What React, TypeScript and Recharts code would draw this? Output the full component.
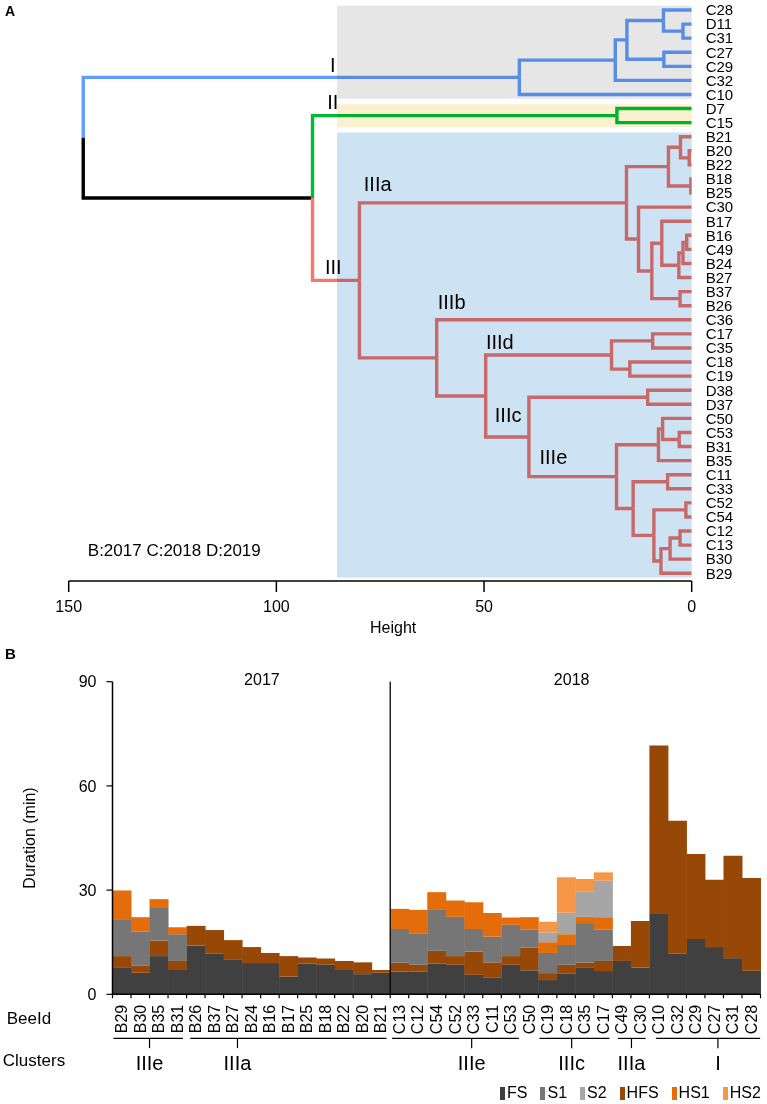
import React from 'react';
import {
  ComposedChart,
  Line,
  Bar,
  XAxis,
  YAxis,
  ReferenceArea,
  ReferenceDot,
  ReferenceLine,
  Label,
  Legend,
} from 'recharts';

// ================= Panel A: dendrogram =================
const leafNames = [
  'C28', 'D11', 'C31', 'C27', 'C29', 'C32', 'C10', 'D7', 'C15', 'B21', 'B20', 'B22', 'B18', 'B25',
  'C30', 'B17', 'B16', 'C49', 'B24', 'B27', 'B37', 'B26', 'C36', 'C17', 'C35', 'C18', 'C19', 'D38',
  'D37', 'C50', 'C53', 'B31', 'B35', 'C11', 'C33', 'C52', 'C54', 'C12', 'C13', 'B30', 'B29',
];

// merge steps [left, right, height]; "mN" names the result of step N (1-based)
const mergeSteps: [string, string, number][] = [
  ['D11', 'C31', 2.1], // m1
  ['C28', 'm1', 6.8], // m2
  ['C27', 'C29', 6.7], // m3
  ['m2', 'm3', 15.6], // m4
  ['m4', 'C32', 18.4], // m5
  ['m5', 'C10', 41.5], // m6  cluster I
  ['D7', 'C15', 18.0], // m7  cluster II
  ['B20', 'B22', 0.6], // m8
  ['B21', 'm8', 2.7], // m9
  ['B18', 'B25', 0.2], // m10
  ['m9', 'm10', 5.6], // m11
  ['B16', 'C49', 1.2], // m12
  ['m12', 'B24', 2.1], // m13
  ['m13', 'B27', 3.1], // m14
  ['B17', 'm14', 7.2], // m15
  ['B37', 'B26', 2.8], // m16
  ['m15', 'm16', 9.6], // m17
  ['C30', 'm17', 12.8], // m18
  ['m11', 'm18', 15.7], // m19 IIIa
  ['C17', 'C35', 9.4], // m20
  ['C18', 'C19', 14.9], // m21
  ['m20', 'm21', 19.3], // m22 IIId
  ['D38', 'D37', 10.6], // m23
  ['C53', 'B31', 3.0], // m24
  ['C50', 'm24', 7.0], // m25
  ['m25', 'B35', 8.0], // m26
  ['C11', 'C33', 5.8], // m27
  ['C52', 'C54', 1.4], // m28
  ['C12', 'C13', 2.8], // m29
  ['m29', 'B30', 5.2], // m30
  ['m30', 'B29', 7.4], // m31
  ['m28', 'm31', 9.1], // m32
  ['m27', 'm32', 14.1], // m33
  ['m26', 'm33', 18.1], // m34 IIIe
  ['m23', 'm34', 39.2], // m35 IIIc
  ['m22', 'm35', 49.6], // m36
  ['C36', 'm36', 61.4], // m37 IIIb
  ['m19', 'm37', 80.0], // m38 III
  ['m7', 'm38', 91.3], // m39
  ['m6', 'm39', 146.5], // m40 root
];

const clusterColors: Record<string, string> = {
  m6: '#619CFF',
  m7: '#00BA38',
  m38: '#F8766D',
};

const clusterBoxes = [
  { from: 'C28', to: 'C10', fill: '#E6E6E6' },
  { from: 'D7', to: 'C15', fill: '#FCF1CE' },
  { from: 'B21', to: 'B29', fill: '#CDE2F3' },
];
const boxLeftHeight = 85.4;

const clusterTags = [
  { text: 'I', h: 86.4, y: 3.9 },
  { text: 'II', h: 86.4, y: 6.5 },
  { text: 'IIIa', h: 75.6, y: 12.38 },
  { text: 'III', h: 86.3, y: 18.23 },
  { text: 'IIIb', h: 57.8, y: 20.7 },
  { text: 'IIId', h: 46.2, y: 23.6 },
  { text: 'IIIc', h: 44.2, y: 28.76 },
  { text: 'IIIe', h: 33.3, y: 31.77 },
];
const yearNote = { text: 'B:2017 C:2018 D:2019', h: 145.4, y: 38.35 };
const heightTicks = [0, 50, 100, 150];

type TreeNode = { h: number; y: number; kids: string[] };
const nodes: Record<string, TreeNode> = {};
leafNames.forEach((n, i) => {
  nodes[n] = { h: 0, y: i, kids: [] };
});
mergeSteps.forEach(([a, b, h], i) => {
  nodes['m' + (i + 1)] = { h, y: (nodes[a].y + nodes[b].y) / 2, kids: [a, b] };
});
const rootId = 'm' + mergeSteps.length;

type Edge = { id: string; color: string; pts: { h: number; y: number }[] };
const edges: Edge[] = [];
const walk = (id: string, color: string) => {
  const n = nodes[id];
  n.kids.forEach((k) => {
    const kc = clusterColors[k] ?? color;
    const c = nodes[k];
    edges.push({
      id: k,
      color: kc,
      pts: [
        { h: n.h, y: n.y },
        { h: n.h, y: c.y },
        { h: c.h, y: c.y },
      ],
    });
    walk(k, kc);
  });
};
walk(rootId, '#000000');

// ================= Panel B: stacked durations =================
const beeIds = [
  'B29', 'B30', 'B35', 'B31', 'B26', 'B37', 'B27', 'B24', 'B16', 'B17', 'B25', 'B18', 'B22', 'B20', 'B21',
  'C13', 'C12', 'C54', 'C52', 'C33', 'C11', 'C53', 'C50', 'C19', 'C18', 'C35', 'C17', 'C49', 'C30',
  'C10', 'C32', 'C29', 'C27', 'C31', 'C28',
];
const fsValues = [
  7.8, 6.2, 11.0, 7.0, 14.0, 11.8, 9.9, 9.0, 9.0, 5.1, 8.9, 8.5, 7.0, 5.8, 6.2,
  6.5, 6.6, 8.8, 8.5, 5.6, 4.9, 8.5, 6.9, 4.1, 5.9, 7.6, 6.7, 9.6, 7.7,
  23.1, 11.8, 15.9, 13.6, 10.4, 6.8,
];
const hfsValues = [
  3.2, 2.0, 4.5, 2.6, 5.7, 6.7, 5.7, 4.6, 2.9, 5.9, 1.7, 1.8, 2.6, 3.4, 0.8,
  2.6, 1.9, 3.7, 2.5, 6.7, 4.3, 2.5, 6.5, 2.0, 2.6, 1.5, 2.9, 4.3, 13.4,
  48.5, 38.2, 24.5, 19.4, 29.5, 26.7,
];
const s1Values = [
  10.4, 9.9, 9.6, 7.7, 0, 0, 0, 0, 0, 0, 0, 0, 0, 0, 0,
  9.7, 8.9, 12.0, 11.3, 6.5, 7.4, 9.0, 5.3, 5.8, 5.7, 11.4, 9.1, 0, 0,
  0, 0, 0, 0, 0, 0,
];
const hs1Values = [
  8.5, 4.1, 2.3, 2.0, 0, 0, 0, 0, 0, 0, 0, 0, 0, 0, 0,
  5.8, 6.9, 4.9, 4.7, 7.7, 6.8, 2.1, 3.5, 3.1, 3.1, 1.8, 3.5, 0, 0,
  0, 0, 0, 0, 0, 0,
];
const s2Values = [
  0, 0, 0, 0, 0, 0, 0, 0, 0, 0, 0, 0, 0, 0, 0,
  0, 0, 0, 0, 0, 0, 0, 0, 2.8, 6.2, 7.2, 10.5, 0, 0,
  0, 0, 0, 0, 0, 0,
];
const hs2Values = [
  0, 0, 0, 0, 0, 0, 0, 0, 0, 0, 0, 0, 0, 0, 0,
  0, 0, 0, 0, 0, 0, 0, 0, 3.1, 10.2, 3.7, 2.4, 0, 0,
  0, 0, 0, 0, 0, 0,
];

const seriesColors: Record<string, string> = {
  FS: '#404040',
  S1: '#767676',
  S2: '#A6A6A6',
  HFS: '#974806',
  HS1: '#E46C0A',
  HS2: '#F79646',
};
const stackOrder = ['FS', 'HFS', 'S1', 'HS1', 'S2', 'HS2'];
const legendOrder = ['FS', 'S1', 'S2', 'HFS', 'HS1', 'HS2'];
const durationTicks = [0, 30, 60, 90];

const barData = beeIds.map((bee, i) => ({
  bee,
  slot: i + 0.5,
  FS: fsValues[i],
  HFS: hfsValues[i],
  S1: s1Values[i],
  HS1: hs1Values[i],
  S2: s2Values[i],
  HS2: hs2Values[i],
}));

const yearDivider = 15;
const yearLabels = [
  { text: '2017', at: 8.07 },
  { text: '2018', at: 24.8 },
];
const clusterBrackets = [
  { text: 'IIIe', from: 0.05, to: 3.8, mark: 2.0 },
  { text: 'IIIa', from: 4.2, to: 14.8, mark: 6.75 },
  { text: 'IIIe', from: 15.1, to: 21.95, mark: 19.4 },
  { text: 'IIIc', from: 23.06, to: 26.84, mark: 24.8 },
  { text: 'IIIa', from: 27.3, to: 28.8, mark: 28.03 },
  { text: 'I', from: 29.35, to: 34.98, mark: 32.7 },
];
const bracketLevel = -12.7;
const bracketTickEnd = -15.5;
const bracketTextLevel = -19.7;
const rowTitles = [
  { text: 'BeeId', x: -4.51, y: -6.69 },
  { text: 'Clusters', x: -4.24, y: -18.95 },
];

const BeeTick = (props: any) => {
  const { x, y, payload, index, visibleTicksCount, width } = props;
  const half =
    payload && typeof payload.offset === 'number' && payload.offset > 0
      ? payload.offset
      : width && visibleTicksCount
        ? width / visibleTicksCount / 2
        : 0;
  return (
    <g>
      <line x1={x - half} x2={x - half} y1={y} y2={y + 4} stroke="#000" strokeWidth={1.2} />
      {index === visibleTicksCount - 1 && (
        <line x1={x + half} x2={x + half} y1={y} y2={y + 4} stroke="#000" strokeWidth={1.2} />
      )}
      <text
        transform={`translate(${x},${y + 10.5}) rotate(-90)`}
        textAnchor="end"
        dominantBaseline="central"
        fontSize={16}
        fill="#000"
      >
        {payload.value}
      </text>
    </g>
  );
};

const DurationLabel = (props: any) => {
  const vb = props.viewBox || {};
  const cx = (vb.x ?? 0) + 29;
  const cy = (vb.y ?? 0) + (vb.height ?? 0) / 2;
  return (
    <text
      x={cx}
      y={cy}
      transform={`rotate(-90, ${cx}, ${cy})`}
      textAnchor="middle"
      dominantBaseline="central"
      fontSize={16}
      fill="#000"
    >
      Duration (min)
    </text>
  );
};

const renderLegend = () => (
  <div style={{ display: 'flex', gap: 13, fontSize: 16, lineHeight: '16px', color: '#000' }}>
    {legendOrder.map((k) => (
      <div key={k} style={{ display: 'flex', alignItems: 'center' }}>
        <span
          style={{ display: 'inline-block', width: 5, height: 13, background: seriesColors[k], marginRight: 2 }}
        />
        <span>{k}</span>
      </div>
    ))}
  </div>
);

const FONT = '"Liberation Sans", Arial, Helvetica, sans-serif';

export default function App() {
  return (
    <div
      style={{
        position: 'absolute',
        left: 0,
        top: 0,
        width: 767,
        height: 1104,
        background: '#fff',
        fontFamily: FONT,
        overflow: 'hidden',
      }}
    >
      <style>{`.dendro .recharts-reference-area-rect, .dendro .blend-box { mix-blend-mode: multiply; }`}</style>
      <div style={{ position: 'absolute', left: 5, top: 3, fontWeight: 700, fontSize: 14 }}>A</div>
      <div style={{ position: 'absolute', left: 5, top: 645, fontWeight: 700, fontSize: 15 }}>B</div>

      <div className="dendro" style={{ position: 'absolute', left: 0, top: 0 }}>
        <ComposedChart width={767} height={645} margin={{ top: 2.96, right: 0, bottom: 12, left: 68.7 }}>
          <XAxis
            type="number"
            dataKey="h"
            domain={[0, 150]}
            reversed
            allowDataOverflow
            ticks={heightTicks}
            interval={0}
            height={52}
            tickSize={11}
            tickMargin={9}
            axisLine={{ stroke: '#000', strokeWidth: 1.5 }}
            tickLine={{ stroke: '#000', strokeWidth: 1.5 }}
            tick={{ fontSize: 16, fill: '#000' }}
          >
            <Label value="Height" position="insideBottom" offset={0} dx={13} fontSize={16} fill="#000" />
          </XAxis>
          <YAxis
            type="number"
            orientation="right"
            domain={[-0.5, 40.55]}
            reversed
            allowDataOverflow
            ticks={leafNames.map((_, i) => i)}
            interval={0}
            tickFormatter={(v: number) => leafNames[v]}
            width={75.3}
            axisLine={false}
            tickLine={false}
            tickSize={0}
            tickMargin={14}
            tick={{ fontSize: 15, fill: '#000' }}
          />
          {edges.map((e) => (
            <Line
              key={e.id}
              data={e.pts}
              dataKey="y"
              type="linear"
              stroke={e.color}
              strokeWidth={3.4}
              strokeLinejoin="miter"
              dot={false}
              activeDot={false}
              isAnimationActive={false}
            />
          ))}
          {clusterBoxes.map((b) => (
            <ReferenceArea
              key={b.from}
              x1={boxLeftHeight}
              x2={0}
              y1={leafNames.indexOf(b.from) - 0.3}
              y2={leafNames.indexOf(b.to) + 0.3}
              fill={b.fill}
              fillOpacity={1}
              stroke="none"
              ifOverflow="visible"
              className="blend-box"
              zIndex={1000}
            />
          ))}
          {clusterTags.map((t) => (
            <ReferenceDot
              key={t.text}
              x={t.h}
              y={t.y}
              r={0}
              fill="none"
              stroke="none"
              ifOverflow="visible"
              zIndex={2000}
              label={{ value: t.text, position: 'center', fontSize: 20, fill: '#000' }}
            />
          ))}
          <ReferenceDot
            x={yearNote.h}
            y={yearNote.y}
            r={0}
            fill="none"
            stroke="none"
            ifOverflow="visible"
            zIndex={2000}
            label={{ value: yearNote.text, position: 'right', offset: 0, fontSize: 17, fill: '#000' }}
          />
        </ComposedChart>
      </div>

      <div style={{ position: 'absolute', left: 0, top: 640 }}>
        <ComposedChart
          width={767}
          height={464}
          data={barData}
          margin={{ top: 41.7, right: 6.5, bottom: 69.7, left: 0 }}
          barCategoryGap={0}
          barGap={0}
        >
          <XAxis
            xAxisId="cat"
            dataKey="bee"
            type="category"
            interval={0}
            height={40}
            axisLine={{ stroke: '#000', strokeWidth: 1.5 }}
            tickLine={false}
            tickSize={0}
            tickMargin={0}
            tick={(p: any) => <BeeTick {...p} />}
          />
          <XAxis xAxisId="num" dataKey="slot" type="number" domain={[0, 35]} allowDataOverflow hide />
          <YAxis
            type="number"
            domain={[0, 90]}
            ticks={durationTicks}
            interval={0}
            width={112.5}
            tickSize={6}
            tickMargin={10}
            axisLine={{ stroke: '#000', strokeWidth: 1.5 }}
            tickLine={{ stroke: '#000', strokeWidth: 1.2 }}
            tick={{ fontSize: 16, fill: '#000' }}
          >
            <Label content={(p: any) => <DurationLabel {...p} />} />
          </YAxis>
          {stackOrder.map((k) => (
            <Bar
              key={k}
              xAxisId="cat"
              dataKey={k}
              name={k}
              stackId="dur"
              fill={seriesColors[k]}
              isAnimationActive={false}
            />
          ))}
          <ReferenceLine xAxisId="num" x={yearDivider} stroke="#000" strokeWidth={1.3} ifOverflow="visible" />
          {yearLabels.map((t) => (
            <ReferenceDot
              key={t.text}
              xAxisId="num"
              x={t.at}
              y={90.8}
              r={0}
              fill="none"
              stroke="none"
              ifOverflow="visible"
              label={{ value: t.text, position: 'center', fontSize: 16, fill: '#000' }}
            />
          ))}
          {clusterBrackets.map((c, i) => (
            <ReferenceLine
              key={'bl' + i}
              xAxisId="num"
              segment={[
                { x: c.from, y: bracketLevel },
                { x: c.to, y: bracketLevel },
              ]}
              stroke="#000"
              strokeWidth={1.2}
              ifOverflow="visible"
            />
          ))}
          {clusterBrackets.map((c, i) => (
            <ReferenceLine
              key={'bt' + i}
              xAxisId="num"
              segment={[
                { x: c.mark, y: bracketLevel },
                { x: c.mark, y: bracketTickEnd },
              ]}
              stroke="#000"
              strokeWidth={1.2}
              ifOverflow="visible"
            />
          ))}
          {clusterBrackets.map((c, i) => (
            <ReferenceDot
              key={'bx' + i}
              xAxisId="num"
              x={c.mark}
              y={bracketTextLevel}
              r={0}
              fill="none"
              stroke="none"
              ifOverflow="visible"
              label={{ value: c.text, position: 'center', fontSize: 20, fill: '#000' }}
            />
          ))}
          {rowTitles.map((t) => (
            <ReferenceDot
              key={t.text}
              xAxisId="num"
              x={t.x}
              y={t.y}
              r={0}
              fill="none"
              stroke="none"
              ifOverflow="visible"
              label={{ value: t.text, position: 'center', fontSize: 17, fill: '#000' }}
            />
          ))}
          <Legend
            layout="horizontal"
            verticalAlign="middle"
            align="center"
            wrapperStyle={{ top: 445, left: 500, width: 'auto' }}
            content={renderLegend}
          />
        </ComposedChart>
      </div>
    </div>
  );
}
